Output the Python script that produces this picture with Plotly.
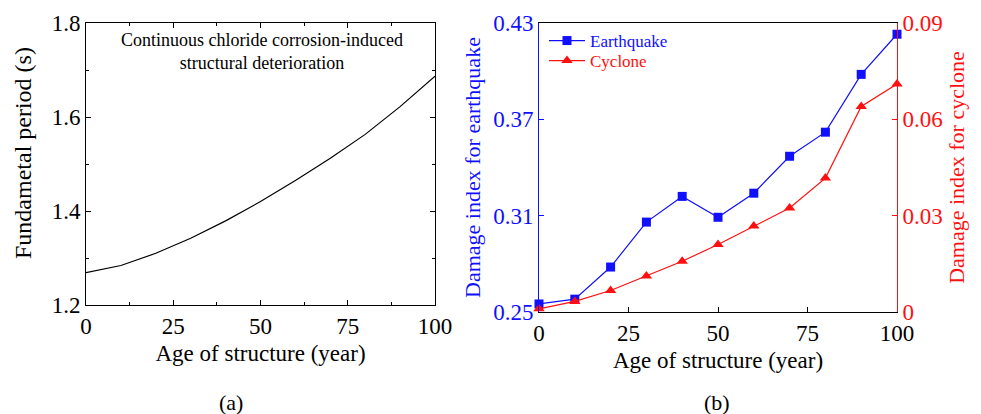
import plotly.graph_objects as go

age = [0, 10, 20, 30, 40, 50, 60, 70, 80, 90, 100]
period = [1.269, 1.284, 1.31, 1.342, 1.379, 1.42, 1.465, 1.512, 1.563, 1.622, 1.687]
quake = [0.255, 0.258, 0.278, 0.306, 0.322, 0.309, 0.324, 0.347, 0.362, 0.398, 0.423]
cyclone = [0.001, 0.0033, 0.0067, 0.0112, 0.0158, 0.021, 0.0268, 0.0324, 0.0417, 0.064, 0.071]

W, H = 981, 414
FONT = "Liberation Serif"
BLUE = "#1010ff"
RED = "#ff1010"

def px(x):
    return x / W

def py(y):
    return 1 - y / H

fig = go.Figure()
fig.add_trace(go.Scatter(x=age, y=period, mode="lines", line=dict(color="black", width=1.2),
                         xaxis="x", yaxis="y", showlegend=False))
fig.add_trace(go.Scatter(x=age, y=quake, mode="lines+markers",
                         name=f"<span style='color:{BLUE}'>Earthquake</span>",
                         line=dict(color=BLUE, width=1.2),
                         marker=dict(symbol="square", size=9, color=BLUE),
                         xaxis="x2", yaxis="y2", cliponaxis=False, legend="legend"))
fig.add_trace(go.Scatter(x=age, y=cyclone, mode="lines+markers",
                         name=f"<span style='color:{RED}'>Cyclone</span>",
                         line=dict(color=RED, width=1.2),
                         marker=dict(symbol="triangle-up", size=10, color=RED),
                         xaxis="x2", yaxis="y3", cliponaxis=False, legend="legend2"))

tickfont = dict(family=FONT, size=23, color="black")
titlefont = dict(family=FONT, size=23, color="black")

common_x = dict(range=[0, 100], tickvals=[0, 25, 50, 75, 100], ticks="inside", ticklen=5,
                showline=True, linecolor="black", linewidth=1, showgrid=False, zeroline=False,
                tickfont=tickfont, tickcolor="black", automargin=False)

legend_common = dict(xanchor="left", yanchor="top", bgcolor="rgba(0,0,0,0)",
                     font=dict(family=FONT, size=17), itemwidth=36)

fig.update_layout(
    width=W, height=H, margin=dict(l=0, r=0, t=0, b=0, autoexpand=False),
    paper_bgcolor="white", plot_bgcolor="white",
    font=dict(family=FONT),
    xaxis=dict(common_x, domain=[px(86), px(435)], anchor="y", mirror="ticks",
               minor=dict(ticks="inside", ticklen=3, dtick=12.5, tick0=0, tickcolor="black"),
               title=dict(text="Age of structure (year)", font=titlefont, standoff=7)),
    yaxis=dict(range=[1.2, 1.8], tickvals=[1.2, 1.4, 1.6, 1.8], ticktext=["1.2", "1.4", "1.6", "1.8"],
               domain=[py(305), py(23)], anchor="x", ticks="inside", ticklen=5, mirror="ticks",
               minor=dict(ticks="inside", ticklen=3, dtick=0.1, tick0=1.2, tickcolor="black"),
               showline=True, linecolor="black", linewidth=1, showgrid=False, zeroline=False,
               tickfont=tickfont, tickcolor="black", automargin=False),
    xaxis2=dict(common_x, domain=[px(539), px(897)], anchor="y2", mirror=True,
                title=dict(text="Age of structure (year)", font=titlefont, standoff=7)),
    yaxis2=dict(range=[0.25, 0.43], tickvals=[0.25, 0.31, 0.37, 0.43],
                ticktext=["0.25", "0.31", "0.37", "0.43"],
                domain=[py(312), py(23)], anchor="x2", ticks="inside", ticklen=5,
                showline=True, linecolor=BLUE, linewidth=1, showgrid=False, zeroline=False,
                tickfont=dict(family=FONT, size=23, color=BLUE), tickcolor=BLUE, automargin=False,
                title=dict(text="Damage index for earthquake",
                           font=dict(family=FONT, size=22, color=BLUE), standoff=6)),
    yaxis3=dict(range=[0, 0.09], tickvals=[0, 0.03, 0.06, 0.09],
                ticktext=["0", "0.03", "0.06", "0.09"],
                overlaying="y2", side="right", anchor="x2", ticks="inside", ticklen=5,
                showline=True, linecolor=RED, linewidth=1, showgrid=False, zeroline=False,
                tickfont=dict(family=FONT, size=23, color=RED), tickcolor=RED, automargin=False,
                title=dict(text="Damage index for cyclone",
                           font=dict(family=FONT, size=22, color=RED), standoff=6)),
    legend=dict(legend_common, x=px(544), y=py(23)),
    legend2=dict(legend_common, x=px(544), y=py(43)),
    annotations=[
        dict(text="Fundametal period (s)", x=px(23), y=py(153), xref="paper", yref="paper",
             showarrow=False, textangle=-90, xanchor="center", yanchor="middle",
             font=dict(family=FONT, size=24, color="black")),
        dict(text="Continuous chloride corrosion-induced<br>structural deterioration",
             x=px(262), y=py(51), xref="paper", yref="paper", showarrow=False,
             xanchor="center", yanchor="middle",
             font=dict(family=FONT, size=18, color="black"), align="center"),
        dict(text="(a)", x=px(231), y=py(402), xref="paper", yref="paper", showarrow=False,
             xanchor="center", yanchor="middle",
             font=dict(family=FONT, size=22, color="black")),
        dict(text="(b)", x=px(717), y=py(402), xref="paper", yref="paper", showarrow=False,
             xanchor="center", yanchor="middle",
             font=dict(family=FONT, size=22, color="black")),
    ],
)

fig.write_html("out.html")
